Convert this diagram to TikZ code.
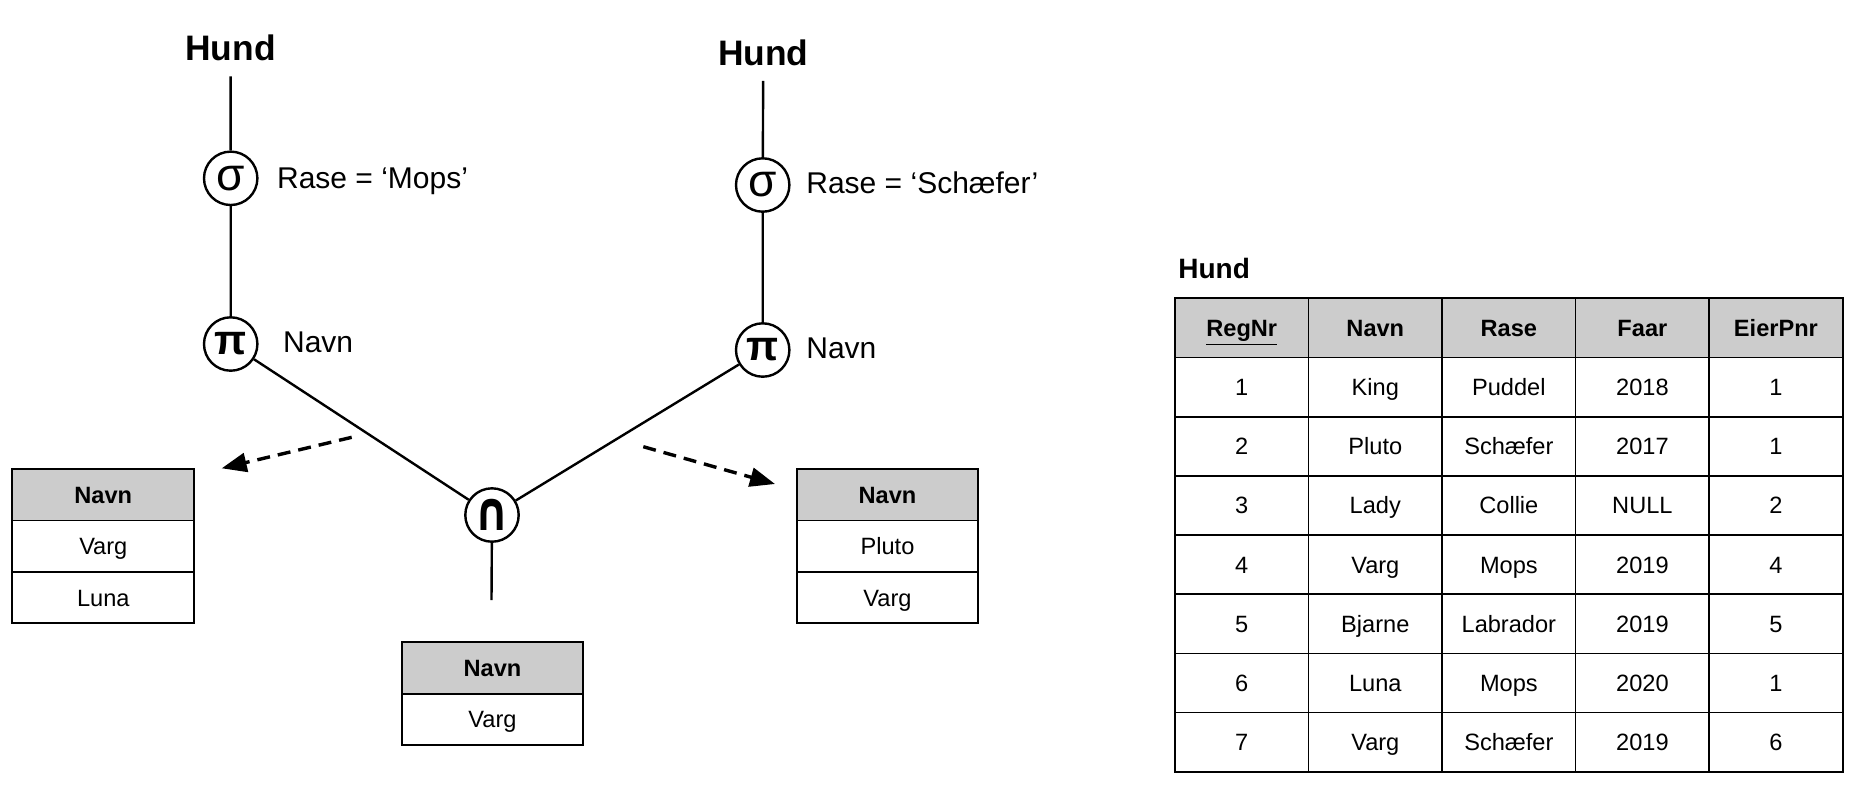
\documentclass[tikz,border=0pt]{standalone}
\usepackage{fontspec}
\usepackage{graphicx}
\setmainfont{Liberation Sans}
\newfontfamily\symfont{DejaVu Sans}
\usetikzlibrary{arrows.meta}
\definecolor{headgray}{HTML}{CCCCCC}

\tikzset{
  op/.style={draw, circle, line width=1.2pt, minimum size=26.7pt, inner sep=0pt, fill=white,
    font=\fontsize{23}{23}\selectfont},
  lbl/.style={anchor=base west, inner sep=0pt, font=\fontsize{15}{18}\selectfont},
  rel/.style={anchor=base, inner xsep=0pt, inner ysep=7.5pt, font=\fontsize{17.7}{20}\selectfont\bfseries},
  linje/.style={line width=1.2pt},
  tab/.style={line width=0.85pt},
  celle/.style={anchor=base, inner sep=0pt, font=\fontsize{11.8}{14}\selectfont},
  hcelle/.style={celle, font=\fontsize{11.8}{14}\selectfont\bfseries},
  pil/.style={line width=1.7pt, dash pattern=on 6.5pt off 4pt, -{Triangle[length=12.5pt,width=9.5pt]}}
}

\begin{document}
\begin{tikzpicture}[x=0.5pt,y=-0.5pt]
	\useasboundingbox (0,0) rectangle (1854,784);
	
	% venstre gren
	\node[rel] (hund1) at (230.6,60.7) {Hund};
	\node[op] (s1) at (230.7,178.3) {σ};
	\node[op, font=\fontsize{21}{21}\selectfont\bfseries] (p1) at (230.7,344) {π};
	\node[lbl] (l1) at (276.7,188.3) {Rase = ‘Mops’};
	\node[lbl] (l2) at (282.7,352.7) {Navn};
	
	% hoyre gren
	\node[rel] (hund2) at (763.3,65) {Hund};
	\node[op] (s2) at (762.7,185) {σ};
	\node[op, font=\fontsize{21}{21}\selectfont\bfseries] (p2) at (762.7,350) {π};
	\node[lbl] (l3) at (806,193.3) {Rase = ‘Schæfer’};
	\node[lbl] (l4) at (806,358.3) {Navn};
	
	% snitt
	\node[op, font=\fontsize{27}{27}\symfont\bfseries] (snitt) at (492,515) {\scalebox{0.8}[1]{∩}};
	\coordinate (ut) at (491.5,600);
	
	\draw[linje] (hund1) -- (s1) -- (p1);
	\draw[linje] (hund2) -- (s2) -- (p2);
	\draw[linje] (p1) -- (snitt);
	\draw[linje] (p2) -- (snitt);
	\draw[linje] (snitt) -- (ut);
	
	% stiplede piler
	\coordinate (a1) at (351.7,437.3);
	\coordinate (b1) at (221.7,468.3);
	\coordinate (a2) at (643.3,446.7);
	\coordinate (b2) at (775,484);
	\draw[pil] (a1) -- (b1);
	\draw[pil] (a2) -- (b2);
	
	% resultat venstre
	\fill[headgray] (12.3,469) rectangle (194.3,520.4);
	\draw[tab] (12.3,469) rectangle (194.3,623.3);
	\draw[tab] (12.3,520.4) -- (194.3,520.4) (12.3,571.8) -- (194.3,571.8);
	\node[hcelle] (v0) at (103.3,503.1) {Navn};
	\node[celle] (v1) at (103.3,554.5) {Varg};
	\node[celle] (v2) at (103.3,606) {Luna};
	
	% resultat hoyre
	\fill[headgray] (796.7,469) rectangle (978.3,520.4);
	\draw[tab] (796.7,469) rectangle (978.3,623.3);
	\draw[tab] (796.7,520.4) -- (978.3,520.4) (796.7,571.8) -- (978.3,571.8);
	\node[hcelle] (r0) at (887.5,503.1) {Navn};
	\node[celle] (r1) at (887.5,554.5) {Pluto};
	\node[celle] (r2) at (887.5,606) {Varg};
	
	% resultat snitt
	\fill[headgray] (401.7,642.3) rectangle (583.3,693.7);
	\draw[tab] (401.7,642.3) rectangle (583.3,745);
	\draw[tab] (401.7,693.7) -- (583.3,693.7);
	\node[hcelle] (m0) at (492.5,676.4) {Navn};
	\node[celle] (m1) at (492.5,727.8) {Varg};
	
	% tabellen Hund
	\node[anchor=base west, inner sep=0pt, font=\fontsize{14}{16}\selectfont\bfseries] (tittel) at (1178,278.3) {Hund};
	\fill[headgray] (1175,298.3) rectangle (1842.7,357.5);
	\draw[tab] (1175,298.3) rectangle (1842.7,771.7);
	\foreach \i in {1,...,7}
		\draw[tab] (1175,{298.3+59.18*\i}) -- (1842.7,{298.3+59.18*\i});
	\foreach \i in {1,...,4}
		\draw[tab] ({1175+133.54*\i},298.3) -- ({1175+133.54*\i},771.7);
	\foreach \t [count=\k] in {\underline{RegNr},Navn,Rase,Faar,EierPnr}
		\node[hcelle] (h0\k) at ({1175+133.54*(\k-0.5)},{298.3+59.18*0.5+8.45}) {\t};
	\foreach \r/\a/\b/\c/\d/\e in {1/1/King/Puddel/2018/1, 2/2/Pluto/Schæfer/2017/1,
		3/3/Lady/Collie/NULL/2, 4/4/Varg/Mops/2019/4, 5/5/Bjarne/Labrador/2019/5,
		6/6/Luna/Mops/2020/1, 7/7/Varg/Schæfer/2019/6}
		\foreach \t [count=\k] in {\a,\b,\c,\d,\e}
			\node[celle] (h\r\k) at ({1175+133.54*(\k-0.5)},{298.3+59.18*(\r+0.5)+8.45}) {\t};
\end{tikzpicture}
\end{document}
